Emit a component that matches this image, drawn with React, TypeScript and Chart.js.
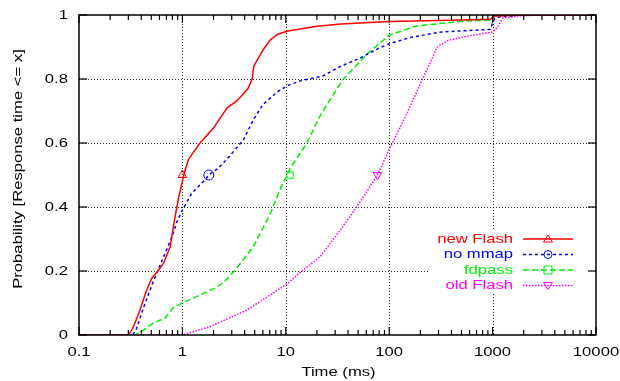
import React, { useEffect, useRef } from "react";
import { Chart, registerables } from "chart.js";

Chart.register(...registerables);

// ---- data ----
const xTickValues = [0.1, 1, 10, 100, 1000, 10000];
const xTickLabels = ["0.1", "1", "10", "100", "1000", "10000"];
const yTickValues = [0, 0.2, 0.4, 0.6, 0.8, 1];
const yTickLabels = ["0", "0.2", "0.4", "0.6", "0.8", "1"];

const seriesNames = ["new Flash", "no mmap", "fdpass", "old Flash"];

const newFlashX = [0.1, 0.3, 0.33, 0.36, 0.39, 0.45, 0.51, 0.58, 0.66, 0.76, 0.85, 0.92, 1.0, 1.05, 1.15, 1.27, 1.48, 1.98, 2.71, 3.3, 3.79, 4.3, 4.73, 4.9, 6.0, 7.0, 8.3, 10.5, 20, 34, 100, 300, 950, 1050, 2000, 10000];
const newFlashY = [0, 0, 0.02, 0.05, 0.08, 0.14, 0.18, 0.2, 0.225, 0.275, 0.37, 0.43, 0.48, 0.51, 0.55, 0.57, 0.6, 0.645, 0.71, 0.73, 0.75, 0.77, 0.8, 0.84, 0.89, 0.92, 0.94, 0.95, 0.965, 0.972, 0.98, 0.983, 0.987, 0.997, 1, 1];

const noMmapX = [0.1, 0.33, 0.36, 0.42, 0.52, 0.65, 0.79, 0.9, 1.0, 1.23, 1.66, 1.8, 2.2, 2.7, 3.9, 4.8, 6.0, 8.3, 10.5, 14, 20, 23, 34, 52, 78, 100, 160, 320, 950, 1000, 1050, 1200, 2000, 10000];
const noMmapY = [0, 0, 0.02, 0.085, 0.165, 0.24, 0.305, 0.36, 0.39, 0.443, 0.485, 0.5, 0.52, 0.55, 0.61, 0.67, 0.72, 0.76, 0.78, 0.795, 0.805, 0.81, 0.84, 0.865, 0.895, 0.91, 0.93, 0.947, 0.955, 0.975, 0.99, 0.995, 1, 1];

const fdpassX = [0.1, 0.35, 0.42, 0.52, 0.68, 0.81, 1.0, 1.48, 2.17, 2.6, 3.24, 4.84, 7.1, 9.2, 10, 11, 16, 21.5, 25, 36, 62, 100, 185, 490, 980, 1050, 2000, 10000];
const fdpassY = [0, 0, 0.015, 0.037, 0.053, 0.085, 0.1, 0.125, 0.15, 0.17, 0.203, 0.275, 0.38, 0.47, 0.49, 0.52, 0.6, 0.685, 0.72, 0.8, 0.88, 0.937, 0.966, 0.98, 0.985, 0.997, 1, 1];

const oldFlashX = [0.1, 1.0, 1.85, 4.2, 10.3, 14, 21.5, 35, 52, 77, 100, 150, 200, 292, 367, 570, 1000, 1100, 1260, 1740, 3000, 10000];
const oldFlashY = [0, 0, 0.026, 0.078, 0.16, 0.197, 0.245, 0.335, 0.415, 0.5, 0.58, 0.695, 0.785, 0.9, 0.92, 0.934, 0.947, 0.96, 0.99, 0.997, 1, 1];

const markerX = [1, 1.8, 11, 77];
const markerY = [0.5, 0.5, 0.5, 0.5];

const colors = ["#ff0000", "#0000ff", "#00ee00", "#ff00ff"];
const dashes: number[][] = [[], [3, 3], [6, 3], [1.5, 1.5]];
const markerStyles = ["triangle", "circle", "rect", "triangle"];
const markerRot = [0, 0, 0, 180];

const FONT = "13px 'Liberation Sans', Arial, sans-serif";
const SX = 1.28;

function txt(ctx: CanvasRenderingContext2D, s: string, x: number, y: number, align: CanvasTextAlign, rot = 0) {
  ctx.save();
  ctx.translate(x, y);
  if (rot) ctx.rotate(rot);
  ctx.scale(SX, 1);
  ctx.font = FONT;
  ctx.fillStyle = "#000";
  ctx.textAlign = align;
  ctx.textBaseline = "middle";
  ctx.fillText(s, 0, 0);
  ctx.restore();
}

function drawMarker(ctx: CanvasRenderingContext2D, kind: number, x: number, y: number, color: string) {
  ctx.save();
  ctx.strokeStyle = color;
  ctx.lineWidth = 1;
  ctx.setLineDash([]);
  ctx.beginPath();
  if (kind === 0) {
    ctx.moveTo(x - 4.5, y + 3);
    ctx.lineTo(x + 4.5, y + 3);
    ctx.lineTo(x, y - 4);
    ctx.closePath();
  } else if (kind === 1) {
    ctx.arc(x, y, 4, 0, Math.PI * 2);
  } else if (kind === 2) {
    ctx.rect(x - 4, y - 4, 8, 8);
  } else {
    ctx.moveTo(x - 4.5, y - 3);
    ctx.lineTo(x + 4.5, y - 3);
    ctx.lineTo(x, y + 4);
    ctx.closePath();
  }
  ctx.stroke();
  ctx.restore();
}

const framePlugin = {
  id: "gnuframe",
  beforeDatasetsDraw(chart: any) {
    const ctx = chart.ctx as CanvasRenderingContext2D;
    const { left, right, top, bottom } = chart.chartArea;
    const xs = chart.scales.x;
    const ys = chart.scales.y;
    ctx.save();
    ctx.strokeStyle = "rgba(0,0,0,0.85)";
    ctx.lineWidth = 1;
    ctx.setLineDash([1, 2]);
    xTickValues.slice(1, -1).forEach((v) => {
      const px = Math.round(xs.getPixelForValue(v)) + 0.5;
      ctx.beginPath();
      ctx.moveTo(px, top);
      ctx.lineTo(px, bottom);
      ctx.stroke();
    });
    yTickValues.slice(1, -1).forEach((v) => {
      const py = Math.round(ys.getPixelForValue(v)) + 0.5;
      ctx.beginPath();
      ctx.moveTo(left, py);
      ctx.lineTo(right, py);
      ctx.stroke();
    });
    ctx.restore();
  },
  afterDatasetsDraw(chart: any) {
    const ctx = chart.ctx as CanvasRenderingContext2D;
    const { left, right, top, bottom } = chart.chartArea;
    const xs = chart.scales.x;
    const ys = chart.scales.y;
    ctx.save();
    // legend box (opaque)
    ctx.fillStyle = "#fff";
    ctx.fillRect(428, 230, right - 428 - 1, 64);

    // ticks
    ctx.strokeStyle = "#000";
    ctx.lineWidth = 1.2;
    ctx.setLineDash([]);
    const tick = (x1: number, y1: number, x2: number, y2: number) => {
      ctx.beginPath();
      ctx.moveTo(x1, y1);
      ctx.lineTo(x2, y2);
      ctx.stroke();
    };
    xTickValues.forEach((v, i) => {
      const px = xs.getPixelForValue(v);
      tick(px, bottom, px, bottom - 8);
      tick(px, top, px, top + 8);
      if (i < xTickValues.length - 1) {
        for (let m = 2; m <= 9; m++) {
          const mx = xs.getPixelForValue(v * m);
          tick(mx, bottom, mx, bottom - 5);
          tick(mx, top, mx, top + 5);
        }
      }
    });
    yTickValues.forEach((v) => {
      const py = ys.getPixelForValue(v);
      tick(left, py, left + 8, py);
      tick(right, py, right - 8, py);
    });
    // frame
    ctx.lineWidth = 1.5;
    ctx.strokeRect(left, top, right - left, bottom - top);

    // tick labels
    xTickValues.forEach((v, i) => {
      txt(ctx, xTickLabels[i], xs.getPixelForValue(v), 352, "center");
    });
    yTickValues.forEach((v, i) => {
      txt(ctx, yTickLabels[i], 68, ys.getPixelForValue(v), "right");
    });
    // axis titles
    txt(ctx, "Time (ms)", (left + right) / 2 + 1, 372, "center");
    txt(ctx, "Probability [Response time <= x]", 18, (top + bottom) / 2 - 6, "center", -Math.PI / 2);

    // legend entries
    const rows = [239, 254.5, 270, 285.5];
    seriesNames.forEach((name, i) => {
      const y = rows[i];
      ctx.save();
      ctx.font = FONT;
      ctx.translate(513, y);
      ctx.scale(SX, 1);
      ctx.fillStyle = colors[i];
      ctx.textAlign = "right";
      ctx.textBaseline = "middle";
      ctx.fillText(name, 0, 0);
      ctx.restore();
      ctx.save();
      ctx.strokeStyle = colors[i];
      ctx.lineWidth = 1.5;
      ctx.setLineDash(dashes[i]);
      ctx.beginPath();
      ctx.moveTo(523, y);
      ctx.lineTo(573, y);
      ctx.stroke();
      ctx.restore();
      drawMarker(ctx, i, 548, y, colors[i]);
    });
    ctx.restore();
  },
};

function pts(xs: number[], ys: number[]) {
  return xs.map((x, i) => ({ x, y: ys[i] }));
}

export default function App() {
  const ref = useRef<HTMLCanvasElement>(null);
  useEffect(() => {
    document.body.style.margin = "0";
    const canvas = ref.current!;
    const lines = [
      pts(newFlashX, newFlashY),
      pts(noMmapX, noMmapY),
      pts(fdpassX, fdpassY),
      pts(oldFlashX, oldFlashY),
    ];
    const datasets: any[] = lines.map((d, i) => ({
      label: seriesNames[i],
      data: d,
      showLine: true,
      borderColor: colors[i],
      borderWidth: 1.5,
      borderDash: dashes[i],
      pointRadius: 0,
      tension: 0,
      fill: false,
    }));
    markerX.forEach((mx, i) => {
      datasets.push({
        label: seriesNames[i] + " marker",
        data: [{ x: mx, y: markerY[i] }],
        showLine: false,
        pointStyle: markerStyles[i],
        pointRotation: markerRot[i],
        pointRadius: i === 2 ? 4.5 : 5,
        borderColor: colors[i],
        borderWidth: 1,
        backgroundColor: "rgba(0,0,0,0)",
      });
    });
    const chart = new Chart(canvas, {
      type: "scatter",
      data: { datasets },
      options: {
        animation: false,
        responsive: false,
        devicePixelRatio: 1,
        layout: { padding: { left: 79, top: 15, right: 24, bottom: 46 } },
        plugins: { legend: { display: false }, tooltip: { enabled: false } },
        scales: {
          x: { type: "logarithmic", min: 0.1, max: 10000, display: false },
          y: { type: "linear", min: 0, max: 1, display: false },
        },
      },
      plugins: [framePlugin],
    } as any);
    return () => chart.destroy();
  }, []);
  return (
    <div style={{ position: "fixed", left: 0, top: 0, width: 620, height: 381, background: "#fff" }}>
      <canvas ref={ref} width={620} height={381} />
    </div>
  );
}
